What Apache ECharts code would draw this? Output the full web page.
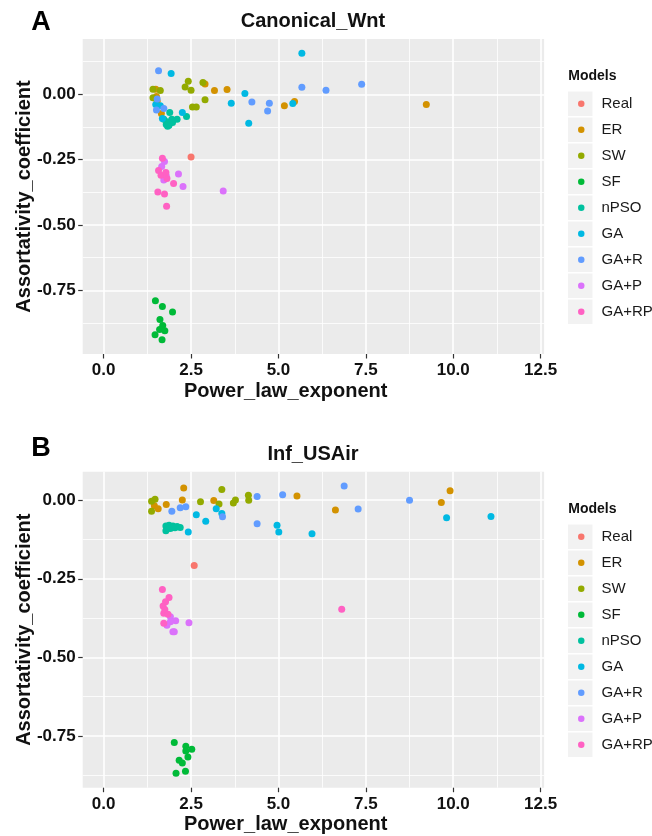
<!DOCTYPE html>
<html>
<head>
<meta charset="utf-8">
<script src="https://cdn.jsdelivr.net/npm/echarts@6/dist/echarts.min.js"></script>
<style>html,body{margin:0;padding:0;background:#fff;}#c{width:652px;height:836px;}</style>
</head>
<body>
<div id="c"></div>
<script>
// ---------- data ----------
const models = ['Real','ER','SW','SF','nPSO','GA','GA+R','GA+P','GA+RP'];
const colors = ['#F8766D','#D39200','#93AA00','#00BA38','#00C19F','#00B9E3','#619CFF','#DB72FB','#FF61C3'];
const xTicks = [0, 2.5, 5, 7.5, 10, 12.5];
const xMinor = [1.25, 3.75, 6.25, 8.75, 11.25];
const yTicks = [-0.75, -0.5, -0.25, 0];
const yMinorA = [-0.875, -0.625, -0.375, -0.125, 0.125];
const yMinorB = [-0.875, -0.625, -0.375, -0.125];

// Panel A: Canonical_Wnt
const A_Real = [[2.50,-0.240]];
const A_ER = [[1.49,0.020],[1.51,-0.008],[1.53,-0.026],[1.65,-0.073],[2.90,0.040],[3.17,0.015],[3.53,0.019],[5.17,-0.044],[5.46,-0.027],[9.23,-0.039]];
const A_SW = [[1.41,0.020],[1.62,0.015],[1.41,-0.013],[2.42,0.050],[2.33,0.028],[2.50,0.016],[2.84,0.045],[2.90,-0.021],[2.54,-0.048],[2.65,-0.048]];
const A_SF = [[1.48,-0.790],[1.68,-0.812],[1.97,-0.833],[1.61,-0.862],[1.69,-0.885],[1.60,-0.900],[1.75,-0.905],[1.47,-0.920],[1.67,-0.939]];
const A_nPSO = [[1.89,-0.069],[1.72,-0.095],[1.81,-0.105],[1.87,-0.118],[1.79,-0.115],[1.95,-0.095],[2.10,-0.095],[2.37,-0.085],[1.83,-0.122],[1.97,-0.108]];
const A_GA = [[5.67,0.157],[1.93,0.080],[4.04,0.003],[3.65,-0.034],[4.15,-0.111],[5.41,-0.035],[1.49,-0.039],[1.62,-0.044],[1.68,-0.092],[2.25,-0.069]];
const A_GAR = [[1.57,0.090],[5.67,0.027],[4.24,-0.029],[4.74,-0.034],[4.69,-0.064],[6.36,0.016],[7.38,0.039],[1.53,-0.018],[1.51,-0.060],[1.72,-0.054]];
const A_GAP = [[1.74,-0.257],[1.66,-0.276],[1.72,-0.328],[2.14,-0.305],[2.27,-0.353],[3.42,-0.370],[1.79,-0.312]];
const A_GARP = [[1.68,-0.245],[1.57,-0.291],[1.64,-0.310],[1.78,-0.299],[1.81,-0.322],[2.00,-0.341],[1.55,-0.374],[1.74,-0.381],[1.80,-0.428]];

// Panel B: Inf_USAir
const B_Real = [[2.59,-0.208]];
const B_ER = [[1.45,-0.018],[1.56,-0.027],[1.79,-0.014],[2.29,0.039],[2.25,0.001],[3.15,-0.001],[5.53,0.013],[6.63,-0.031],[9.66,-0.007],[9.91,0.030]];
const B_SW = [[1.37,-0.003],[1.47,0.003],[1.37,-0.035],[2.77,-0.005],[3.30,-0.012],[3.38,0.034],[3.71,-0.009],[3.77,0.001],[4.14,0.016],[4.15,0.000]];
const B_SF = [[2.02,-0.771],[2.35,-0.783],[2.52,-0.793],[2.35,-0.798],[2.41,-0.817],[2.16,-0.828],[2.25,-0.836],[2.34,-0.863],[2.07,-0.869]];
const B_nPSO = [[1.78,-0.082],[1.78,-0.097],[1.87,-0.080],[1.91,-0.090],[1.98,-0.082],[2.04,-0.088],[2.10,-0.084],[2.19,-0.087],[1.83,-0.090],[1.95,-0.086]];
const B_GA = [[2.65,-0.046],[2.92,-0.067],[2.42,-0.101],[3.22,-0.027],[3.38,-0.042],[4.96,-0.080],[5.01,-0.101],[5.96,-0.107],[9.81,-0.056],[11.08,-0.052]];
const B_GAR = [[1.95,-0.035],[2.19,-0.024],[2.35,-0.021],[3.40,-0.053],[4.39,0.012],[5.12,0.017],[4.39,-0.075],[6.88,0.045],[7.28,-0.028],[8.75,0.000]];
const B_GAP = [[1.91,-0.371],[2.06,-0.384],[1.91,-0.387],[1.81,-0.398],[2.44,-0.390],[1.98,-0.419],[2.02,-0.419]];
const B_GARP = [[1.68,-0.284],[1.87,-0.310],[1.77,-0.323],[1.70,-0.337],[1.75,-0.348],[1.72,-0.360],[1.84,-0.363],[1.72,-0.392],[6.81,-0.347]];

const panelA = [A_Real,A_ER,A_SW,A_SF,A_nPSO,A_GA,A_GAR,A_GAP,A_GARP];
const panelB = [B_Real,B_ER,B_SW,B_SF,B_nPSO,B_GA,B_GAR,B_GAP,B_GARP];

// ---------- layout ----------
const FONT = 'Liberation Sans, Arial, Helvetica, sans-serif';
const OFF = 433;
const grids = [
  {left:82.7, top:39, width:461.4, height:315},
  {left:82.7, top:471.7, width:461.4, height:316}
];
const yRanges = [[-0.994, 0.212], [-0.915, 0.0907]];

function majorX(gi){
  return {type:'value', gridIndex:gi, min:-0.6, max:12.6, z:2, position:'bottom',
    axisLine:{show:false, onZero:false},
    axisTick:{show:true, length:4.5, lineStyle:{color:'#333', width:1.2}, customValues:xTicks},
    axisLabel:{show:true, customValues:xTicks, formatter:v=>v.toFixed(1), margin:8, fontSize:17, fontWeight:'bold', color:'#111', fontFamily:FONT},
    splitLine:{show:true, lineStyle:{color:'#ffffff', width:1.6}}};
}
function minorX(gi){
  return {type:'value', gridIndex:gi, min:-0.6, max:12.6, z:1, position:'top',
    axisLine:{show:false, onZero:false}, axisTick:{show:false, customValues:xMinor}, axisLabel:{show:false, customValues:xMinor},
    splitLine:{show:true, lineStyle:{color:'#ffffff', width:0.8}}};
}
function majorY(gi){
  return {type:'value', gridIndex:gi, min:yRanges[gi][0], max:yRanges[gi][1], z:2, position:'left',
    name:'Assortativity_coefficient', nameLocation:'middle', nameGap:48, nameMoveOverlap:false,
    nameTextStyle:{fontSize:20, fontWeight:'bold', color:'#111', fontFamily:FONT},
    axisLine:{show:false, onZero:false},
    axisTick:{show:true, length:4.5, lineStyle:{color:'#333', width:1.2}, customValues:yTicks},
    axisLabel:{show:true, customValues:yTicks, formatter:v=>v.toFixed(2), margin:7, fontSize:17, fontWeight:'bold', color:'#111', fontFamily:FONT},
    splitLine:{show:true, lineStyle:{color:'#ffffff', width:1.6}}};
}
function minorY(gi, vals){
  return {type:'value', gridIndex:gi, min:yRanges[gi][0], max:yRanges[gi][1], z:1, position:'right',
    axisLine:{show:false, onZero:false}, axisTick:{show:false, customValues:vals}, axisLabel:{show:false, customValues:vals},
    splitLine:{show:true, lineStyle:{color:'#ffffff', width:0.8}}};
}

const series = [];
[panelA, panelB].forEach((panel, gi) => {
  panel.forEach((data, mi) => {
    series.push({type:'scatter', name:models[mi], xAxisIndex:gi, yAxisIndex:gi, data:data,
      symbolSize:7, z:3, itemStyle:{color:colors[mi], opacity:1}, emphasis:{disabled:true}});
  });
});

function legendCfg(top){
  return {orient:'vertical', left:578, top:top, padding:0, itemWidth:6.5, itemHeight:6.5, itemGap:0,
    icon:'circle', data:models, selectedMode:false,
    textStyle:{fontSize:15, color:'#1a1a1a', fontFamily:FONT, lineHeight:26, padding:[0,0,0,12]}};
}

const graphic = [];
[0, OFF].forEach((o, pi) => {
  graphic.push({type:'text', x:568.3, y:76.5+o, style:{text:'Models', font:'bold 14px '+FONT, fill:'#111', verticalAlign:'middle', align:'left'}});
  models.forEach((m, i) => {
    graphic.push({type:'rect', x:568, y:91.5+26*i+o, z:-1, shape:{width:24.5, height:24.5}, style:{fill:'#F2F2F2'}});
  });
  graphic.push({type:'text', x:313, y:21+o, style:{text: pi===0?'Canonical_Wnt':'Inf_USAir', font:'bold 20px '+FONT, fill:'#111', align:'center', verticalAlign:'middle'}});
  graphic.push({type:'text', x:184, y:391+o, style:{text:'Power_law_exponent', font:'bold 20px '+FONT, fill:'#111', align:'left', verticalAlign:'middle'}});
  graphic.push({type:'text', x:41, y:(pi===0?22.5:449), style:{text: pi===0?'A':'B', font:'bold 27px '+FONT, fill:'#000', align:'center', verticalAlign:'middle'}});
});

const chart = echarts.init(document.getElementById('c'), null, {renderer:'canvas'});
chart.setOption({
  animation:false,
  backgroundColor:'#ffffff',
  grid: grids.map(g => Object.assign({show:true, backgroundColor:'#EBEBEB', borderWidth:0, z:0}, g)),
  xAxis:[majorX(0), majorX(1), minorX(0), minorX(1)],
  yAxis:[majorY(0), majorY(1), minorY(0, yMinorA), minorY(1, yMinorB)],
  legend:[legendCfg(90.7), legendCfg(90.7+OFF)],
  series: series,
  graphic: graphic
});
</script>
</body>
</html>
